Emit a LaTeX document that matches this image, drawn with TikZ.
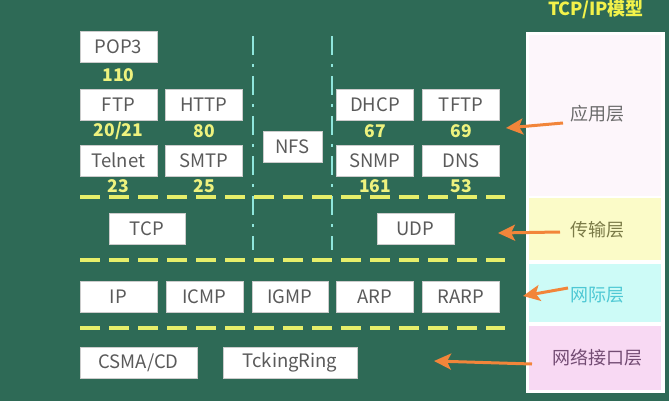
\documentclass[tikz,border=0pt]{standalone}
\usepackage{fontspec}
\setmainfont{Noto Sans CJK SC}
\usetikzlibrary{arrows.meta}
\definecolor{bg}{HTML}{2E6A56}
\definecolor{boxtext}{HTML}{5A5A5A}
\definecolor{numyel}{HTML}{EEF27E}
\definecolor{dashyel}{HTML}{E6EE6A}
\definecolor{vcyan}{HTML}{8FE6DC}
\definecolor{arrorange}{HTML}{F2853A}
\definecolor{appfill}{HTML}{FDF6FB}
\definecolor{trfill}{HTML}{FBFBC8}
\definecolor{netfill}{HTML}{CDFBF7}
\definecolor{iffill}{HTML}{F8D9F3}
\definecolor{titleyel}{HTML}{F2F24A}
\definecolor{netlabel}{HTML}{4EC8D4}
\begin{document}
\begin{tikzpicture}[x=1pt,y=-1pt,
  box/.style={fill=white, draw=white!80!black, line width=0.4pt, minimum height=31pt, minimum width=77pt, inner sep=0pt, text=boxtext, font=\fontsize{18.5}{18.5}\selectfont},
  num/.style={text=numyel, font=\fontsize{17.5}{17.5}\selectfont\bfseries, inner sep=0pt},
  layerdash/.style={draw=dashyel, line width=3.5pt, dash pattern=on 20pt off 9pt},
  vdash/.style={draw=vcyan, line width=2.8pt, dash pattern=on 19pt off 9pt on 3pt off 9pt},
  laylabel/.style={font=\fontsize{18}{18}\selectfont, inner sep=0pt},
  arr/.style={draw=arrorange, line width=3pt, -{Stealth[length=17pt,width=16pt,inset=4pt]}}
]
\fill[bg] (0,0) rectangle (669,401);
\useasboundingbox (0,0) rectangle (669,401);

% right panel
\fill[white] (526,32) rectangle (665,393);
\fill[appfill] (529,35) rectangle (661,196);
\fill[trfill] (529,198) rectangle (661,260);
\fill[netfill] (529,264) rectangle (661,322);
\fill[iffill] (529,326) rectangle (661,390);
\node[font=\fontsize{18}{18}\selectfont\bfseries, text=titleyel, inner sep=0pt] (title) at (596,9) {TCP/IP模型};

\node[laylabel, text=boxtext!90] (lapp) at (597,114) {应用层};
\node[laylabel, text=boxtext!80!yellow] (ltr) at (597,230) {传输层};
\node[laylabel, text=netlabel] (lnet) at (597,295) {网际层};
\node[laylabel, text=boxtext!85!magenta] (lif) at (597,358) {网络接口层};

% vertical dash-dot lines
\coordinate (v1a) at (253,36); \coordinate (v1b) at (253,250);
\coordinate (v2a) at (332,36); \coordinate (v2b) at (332,250);
\draw[vdash] (v1a) -- (v1b);
\draw[vdash] (v2a) -- (v2b);

% layer separators
\coordinate (d1a) at (80,197); \coordinate (d1b) at (505,197);
\coordinate (d2a) at (80,260); \coordinate (d2b) at (505,260);
\coordinate (d3a) at (80,328); \coordinate (d3b) at (505,328);
\draw[layerdash] (d1a) -- (d1b);
\draw[layerdash] (d2a) -- (d2b);
\draw[layerdash] (d3a) -- (d3b);

% application layer
\node[box] (pop3) at (118.5,47) {POP3};
\node[num] (n110) at (118.5,75) {110};
\node[box] (ftp) at (118.5,104.5) {FTP};
\node[box] (http) at (204,104.5) {HTTP};
\node[num] (n2021) at (118.5,131) {20/21};
\node[num] (n80) at (204,131) {80};
\node[box] (telnet) at (118.5,160.5) {Telnet};
\node[box] (smtp) at (204,160.5) {SMTP};
\node[num] (n23) at (118.5,186) {23};
\node[num] (n25) at (204,186) {25};
\node[box, minimum width=59pt] (nfs) at (292.5,146.5) {NFS};
\node[box] (dhcp) at (375,104.5) {DHCP};
\node[box] (tftp) at (461,104.5) {TFTP};
\node[num] (n67) at (375,131) {67};
\node[num] (n69) at (461,131) {69};
\node[box] (snmp) at (375,160.5) {SNMP};
\node[box] (dns) at (461,160.5) {DNS};
\node[num] (n161) at (375,186) {161};
\node[num] (n53) at (461,186) {53};

% transport layer
\node[box, minimum width=76pt] (tcp) at (147,228.5) {TCP};
\node[box] (udp) at (415.5,228.5) {UDP};

% internet layer
\node[box] (ip) at (118.5,297) {IP};
\node[box] (icmp) at (204.5,297) {ICMP};
\node[box, minimum width=76pt] (igmp) at (290,297) {IGMP};
\node[box] (arp) at (375,297) {ARP};
\node[box] (rarp) at (461,297) {RARP};

% network interface layer
\node[box, minimum width=117pt] (csma) at (138.5,362.5) {CSMA/CD};
\node[box, minimum width=134pt] (token) at (290,362.5) {TckingRing};

% arrows
\coordinate (a1t) at (563,123); \coordinate (a1h) at (506,128);
\coordinate (a2t) at (560,232); \coordinate (a2h) at (498,233);
\coordinate (a3t) at (568,288); \coordinate (a3h) at (523,296);
\coordinate (a4t) at (532,364); \coordinate (a4h) at (434,361);
\draw[arr] (a1t) -- (a1h);
\draw[arr] (a2t) -- (a2h);
\draw[arr] (a3t) -- (a3h);
\draw[arr] (a4t) -- (a4h);
\end{tikzpicture}
\end{document}
